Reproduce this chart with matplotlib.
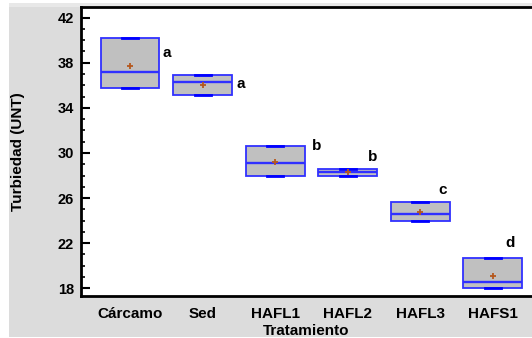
import matplotlib
matplotlib.use("Agg")
import matplotlib.pyplot as plt
from matplotlib.patches import Rectangle

# data
tratamientos = ['Cárcamo', 'Sed', 'HAFL1', 'HAFL2', 'HAFL3', 'HAFS1']
q1 = [35.75, 35.1, 28.0, 28.0, 24.0, 18.05]
mediana = [37.2, 36.25, 29.1, 28.35, 24.6, 18.6]
q3 = [40.15, 36.9, 30.6, 28.55, 25.65, 20.65]
media = [37.7, 36.05, 29.2, 28.3, 24.75, 19.1]
letras = ['a', 'a', 'b', 'b', 'c', 'd']
letra_y = [38.85, 36.1, 30.6, 29.65, 26.7, 22.0]
letra_dx = [0.50, 0.53, 0.57, 0.35, 0.31, 0.24]

plt.rcParams['font.family'] = ['Liberation Sans', 'DejaVu Sans']
plt.rcParams['font.weight'] = 'bold'

fig = plt.figure(figsize=(5.32, 3.38), dpi=100)
W, H = 532, 338

# grey panel behind the chart
fig.patches.append(Rectangle((9 / W, 1 / H), 1 - 9 / W, 334 / H,
                             transform=fig.transFigure, facecolor='#dcdcdc',
                             edgecolor='none', zorder=-5))
fig.patches.append(Rectangle((9 / W, (H - 7) / H), 1 - 9 / W, 4 / H,
                             transform=fig.transFigure, facecolor='#e8e8e8',
                             edgecolor='none', zorder=-4))

ax = fig.add_axes([81 / W, (H - 296) / H, (W - 81) / W, 289 / H])
ax.set_zorder(1)
ax.set_facecolor('white')

stats = []
for i, t in enumerate(tratamientos):
    stats.append({'label': t, 'q1': q1[i], 'med': mediana[i], 'q3': q3[i],
                  'whislo': q1[i], 'whishi': q3[i], 'mean': media[i],
                  'fliers': []})

blue = '#3030ff'
pos = list(range(1, len(tratamientos) + 1))
ax.bxp(stats, positions=pos, widths=0.81, patch_artist=True, showmeans=True,
       showfliers=False, capwidths=0.22,
       boxprops=dict(facecolor='#c0c0c0', edgecolor=blue, linewidth=1.3),
       medianprops=dict(color=blue, linewidth=1.7),
       whiskerprops=dict(color=blue, linewidth=1.3),
       capprops=dict(color='#0000ff', linewidth=2.0),
       meanprops=dict(marker='+', markeredgecolor='#b5581e',
                      markersize=5, markeredgewidth=1.3))

for i, l in enumerate(letras):
    ax.text(pos[i] + letra_dx[i], letra_y[i], l, fontsize=11,
            fontweight='bold', ha='center', va='center')

ax.set_xlim(0.324, 6.54)
ax.set_ylim(17.32, 42.94)
ax.set_yticks([18, 22, 26, 30, 34, 38, 42])
ax.set_yticks(range(18, 43), minor=True)
ax.tick_params(axis='y', which='major', direction='in', length=6.5,
               width=1.5, labelsize=10.5, pad=5)
ax.tick_params(axis='y', which='minor', direction='in', length=3, width=1.2)
ax.tick_params(axis='x', length=0, labelsize=11, pad=8)
for lab in ax.get_xticklabels() + ax.get_yticklabels():
    lab.set_fontweight('bold')

for s in ['left', 'top', 'bottom']:
    ax.spines[s].set_linewidth(2)
    ax.spines[s].set_color('black')
ax.spines['right'].set_visible(False)

ax.set_xlabel('Tratamiento', fontsize=11, fontweight='bold', labelpad=2)
ax.set_ylabel('Turbiedad (UNT)', fontsize=11, fontweight='bold')
ax.yaxis.set_label_coords(-(81 - 25) / (W - 81), 0.5)

fig.savefig('out.png', dpi=100)
